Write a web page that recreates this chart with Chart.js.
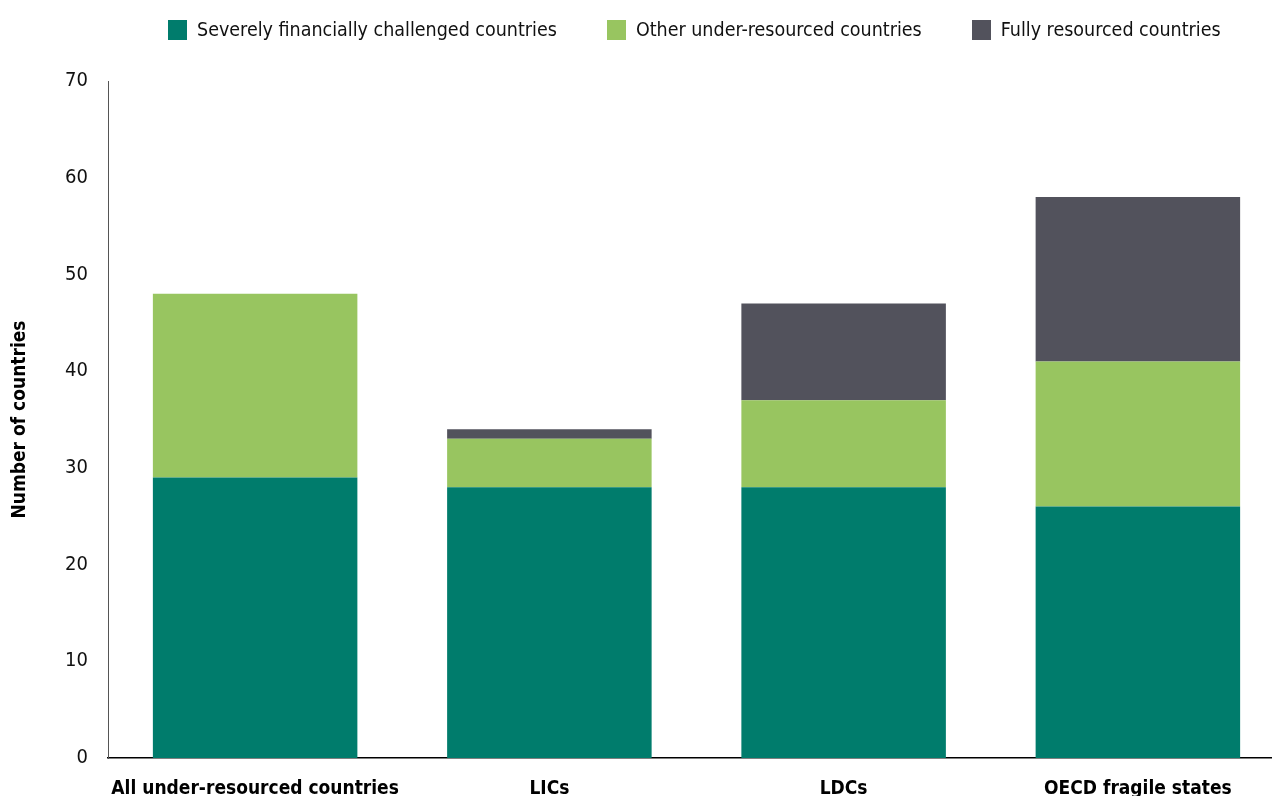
<!DOCTYPE html>
<html>
<head>
<meta charset="utf-8">
<script src="https://cdn.jsdelivr.net/npm/chart.js@4.4.1/dist/chart.umd.min.js"></script>
<style>
  html, body { margin: 0; padding: 0; background: #fff; overflow: hidden; }
  #wrap { position: relative; width: 1290px; height: 796px; }
  #legend {
    position: absolute; left: 168px; top: 18px;
    display: flex; gap: 50px; align-items: center; white-space: nowrap;
    font-family: "Liberation Sans Narrow", "DejaVu Sans Condensed", sans-serif;
    font-size: 19.5px; color: #111;
  }
  .item { display: flex; align-items: center; gap: 10px; }
  .box { width: 19px; height: 20px; }
</style>
</head>
<body>
<div id="wrap">
  <canvas id="chart"></canvas>
  <div id="legend"></div>
</div>
<script>
const FONT = '"Liberation Sans Narrow", "DejaVu Sans Condensed", sans-serif';

const categories = ["All under-resourced countries", "LICs", "LDCs", "OECD fragile states"];
const severelyChallenged = [29, 28, 28, 26];
const otherUnderResourced = [19, 5, 9, 15];
const fullyResourced = [0, 1, 10, 17];
const yTicks = [0, 10, 20, 30, 40, 50, 60, 70];

const data = {
  labels: categories,
  datasets: [
    { label: "Severely financially challenged countries", data: severelyChallenged, backgroundColor: "#007c6c" },
    { label: "Other under-resourced countries", data: otherUnderResourced, backgroundColor: "#98c560" },
    { label: "Fully resourced countries", data: fullyResourced, backgroundColor: "#52525c" },
  ],
};

const chart = new Chart(document.getElementById("chart"), {
  type: "bar",
  data: data,
  options: {
    responsive: true,
    maintainAspectRatio: false,
    animation: false,
    datasets: { bar: { barPercentage: 1, categoryPercentage: 0.695 } },
    layout: { padding: { top: 81, left: 0, right: 5, bottom: 0 } },
    plugins: { legend: { display: false }, tooltip: { enabled: false } },
    scales: {
      x: {
        stacked: true,
        grid: { display: false, drawTicks: false },
        border: { display: true, color: "#000", width: 1.5 },
        ticks: {
          color: "#000", padding: 20, maxRotation: 0, minRotation: 0, autoSkip: false,
          font: { family: FONT, size: 19, weight: "bold" },
        },
        afterFit: (s) => { s.height = 38; s.paddingLeft = 0; s.paddingRight = 0; },
      },
      y: {
        stacked: true,
        min: 0,
        max: 70,
        afterBuildTicks: (s) => { s.ticks = yTicks.map((v) => ({ value: v })); },
        grid: { display: false, drawTicks: false },
        border: { display: true, color: "#555", width: 1 },
        ticks: { color: "#111", padding: 20, font: { family: FONT, size: 20 } },
        title: {
          display: true,
          text: "Number of countries",
          color: "#000",
          padding: { top: 9, bottom: 0 },
          font: { family: FONT, size: 19, weight: "bold" },
        },
        afterFit: (s) => { s.width = 108; },
      },
    },
  },
});

// html legend built from the datasets
const legend = document.getElementById("legend");
chart.data.datasets.forEach((ds) => {
  const item = document.createElement("div");
  item.className = "item";
  const box = document.createElement("span");
  box.className = "box";
  box.style.background = ds.backgroundColor;
  const label = document.createElement("span");
  label.textContent = ds.label;
  item.appendChild(box);
  item.appendChild(label);
  legend.appendChild(item);
});
</script>
</body>
</html>
